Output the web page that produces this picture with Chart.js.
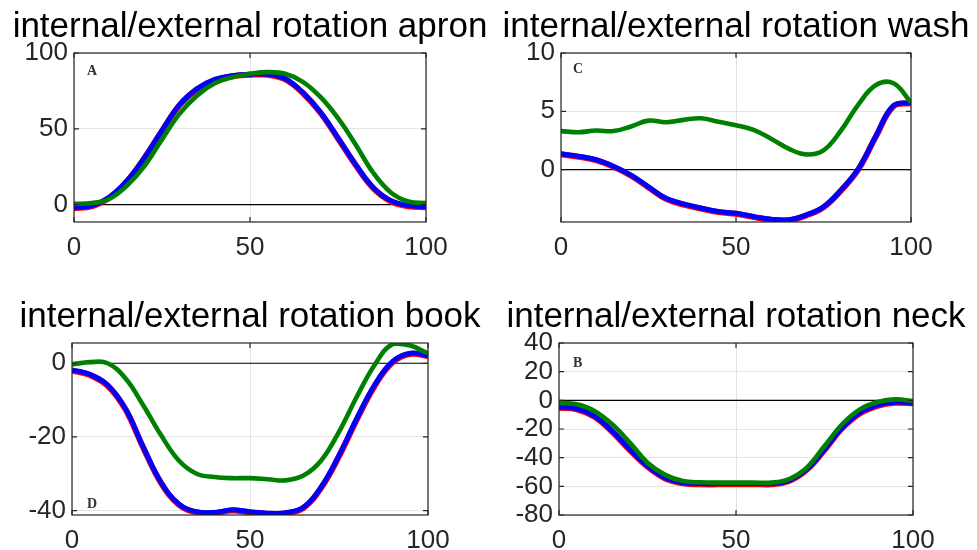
<!DOCTYPE html>
<html>
<head>
<meta charset="utf-8">
<script src="https://cdn.jsdelivr.net/npm/chart.js@4.4.1/dist/chart.umd.min.js"></script>
<style>
  body { margin: 0; background: #fff; width: 977px; height: 550px; position: relative; overflow: hidden; }
  canvas { position: absolute; }
</style>
</head>
<body>
<canvas id="apron" width="490" height="290" style="left:0;top:0"></canvas>
<canvas id="wash" width="487" height="290" style="left:490px;top:0"></canvas>
<canvas id="book" width="490" height="260" style="left:0;top:290px"></canvas>
<canvas id="neck" width="487" height="260" style="left:490px;top:290px"></canvas>
<script>
// % of movement cycle
const cycle = [0, 5, 10, 15, 20, 25, 30, 35, 40, 45, 50, 55, 60, 65, 70, 75, 80, 85, 90, 95, 100];
const xTicks = [0, 50, 100];

// apron
const apronRed   = [-2.4, -1.2, 4.4, 15.2, 30.6, 48.6, 65.6, 76.1, 82.2, 84.6, 85.6, 85.6, 82.6, 73.6, 60.6, 43.6, 26.1, 10.9, 2.2, -1.1, -1.7];
const apronBlue  = [-2, -0.8, 4.8, 15.6, 31, 49, 66, 76.5, 82.6, 85, 86, 86, 83, 74, 61, 44, 26.5, 11.3, 2.6, -0.7, -1.3];
const apronGreen = [0.5, 1, 3.7, 12.4, 25.4, 43, 60, 72, 80, 84, 86.3, 87.4, 86.3, 81, 71, 57, 39.6, 21, 8, 2, 1];
const apronTicks = [0, 50, 100];

// wash
const washRed   = [1.31, 1.09, 0.8, 0.23, -0.53, -1.53, -2.52, -3.0, -3.35, -3.65, -3.8, -4.08, -4.31, -4.35, -3.95, -3.25, -1.81, 0.03, 2.85, 5.43, 5.7];
const washBlue  = [1.36, 1.14, 0.85, 0.28, -0.48, -1.48, -2.47, -2.95, -3.3, -3.6, -3.75, -4.03, -4.26, -4.3, -3.9, -3.2, -1.76, 0.08, 2.9, 5.48, 5.75];
const washGreen = [3.3, 3.2, 3.35, 3.3, 3.7, 4.2, 4.06, 4.26, 4.4, 4.1, 3.8, 3.4, 2.65, 1.8, 1.3, 1.65, 3.35, 5.6, 7.25, 7.4, 5.75];
const washTicks = [0, 5, 10];

// book
const bookRed   = [-2, -3.2, -6.1, -12.5, -22.9, -32.5, -38.4, -40.5, -40.7, -40, -40.5, -40.9, -40.8, -39.3, -33.8, -25.3, -15.3, -6.2, 0.2, 2.5, 1.9];
const bookBlue  = [-1.8, -3, -5.9, -12.3, -22.7, -32.3, -38.2, -40.3, -40.5, -39.8, -40.3, -40.7, -40.6, -39.1, -33.6, -25, -15, -5.9, 0.45, 2.7, 2.1];
const bookGreen = [-0.3, 0.3, 0, -4.1, -11.4, -19.5, -26.4, -30, -30.9, -31.2, -31.2, -31.5, -31.8, -30.5, -26.4, -18.6, -9.1, -0.45, 5.2, 4.8, 2.7];
const bookTicks = [-40, -20, 0];

// neck
const neckRed   = [-5.2, -6.3, -11.5, -21.9, -34.7, -46.3, -54.5, -57.9, -58.6, -58.6, -58.5, -58.5, -58.5, -56.3, -48.5, -34.7, -19.5, -9.1, -3.8, -1.7, -2.1];
const neckBlue  = [-4.7, -5.8, -11, -21.4, -34.2, -45.8, -54, -57.4, -58.1, -58.1, -58, -58, -58, -55.8, -48, -34.2, -19, -8.6, -3.3, -1.2, -1.6];
const neckGreen = [-1.6, -2.8, -7.4, -16.7, -29.5, -43.5, -52, -56.3, -57.2, -57.4, -57.4, -57.4, -57.4, -54.9, -47, -31.9, -16.7, -6.3, -1.2, 0.7, -0.5];
const neckTicks = [-80, -60, -40, -20, 0, 20, 40];

const pts = ys => cycle.map((x, i) => ({ x: x, y: ys[i] }));
const axisColor = '#262626';
const sans = '"Liberation Sans", Arial, sans-serif';

// title, box, inward ticks and panel letter
const panelDecor = {
  id: 'panelDecor',
  afterDraw(chart, args, o) {
    const { ctx, chartArea: a, scales } = chart;
    ctx.save();
    ctx.fillStyle = '#000';
    ctx.font = '35px ' + sans;
    ctx.textAlign = 'center';
    ctx.textBaseline = 'alphabetic';
    ctx.fillText(o.title, (a.left + a.right) / 2, a.top - 16);

    ctx.strokeStyle = axisColor;
    ctx.lineWidth = 1.2;
    ctx.strokeRect(a.left, a.top, a.right - a.left, a.bottom - a.top);
    ctx.beginPath();
    xTicks.forEach(v => {
      const px = scales.x.getPixelForValue(v);
      ctx.moveTo(px, a.bottom); ctx.lineTo(px, a.bottom - 5);
      ctx.moveTo(px, a.top); ctx.lineTo(px, a.top + 5);
    });
    o.yTicks.forEach(v => {
      const py = scales.y.getPixelForValue(v);
      ctx.moveTo(a.left, py); ctx.lineTo(a.left + 5, py);
      ctx.moveTo(a.right, py); ctx.lineTo(a.right - 5, py);
    });
    ctx.stroke();

    ctx.fillStyle = '#333';
    ctx.font = 'bold 14px "Liberation Serif", "DejaVu Serif", serif';
    ctx.textAlign = 'left';
    const ly = o.letterFromBottom ? a.bottom - o.letterDy : a.top + o.letterDy;
    ctx.fillText(o.letter, a.left + o.letterDx, ly);
    ctx.restore();
  }
};

function panel(id, title, letter, red, blue, green, yTicks, yMin, yMax, layout) {
  const line = (data, color, w) => ({
    data: pts(data), borderColor: color, borderWidth: w,
    pointRadius: 0, tension: 0.4, fill: false
  });
  new Chart(document.getElementById(id), {
    type: 'line',
    data: {
      datasets: [
        line(green, 'rgb(0,128,0)', 4.6),
        line(blue, 'rgb(0,0,255)', 5),
        line(red, 'rgb(255,0,0)', 6),
        { data: [{ x: 0, y: 0 }, { x: 100, y: 0 }], borderColor: '#000', borderWidth: 1.2, pointRadius: 0 }
      ]
    },
    options: {
      responsive: false,
      animation: false,
      events: [],
      layout: { padding: { top: layout.top, right: layout.right, bottom: layout.bottom, left: 0 } },
      plugins: {
        legend: { display: false },
        tooltip: { enabled: false },
        panelDecor: { title: title, letter: letter, yTicks: yTicks,
          letterDx: layout.letterDx, letterDy: layout.letterDy, letterFromBottom: layout.letterFromBottom }
      },
      scales: {
        x: {
          type: 'linear', min: 0, max: 100,
          afterBuildTicks: ax => { ax.ticks = xTicks.map(v => ({ value: v })); },
          afterFit: ax => { ax.height = layout.xh; },
          grid: { color: '#e3e3e3', lineWidth: 1, drawTicks: false },
          border: { display: false },
          ticks: { color: axisColor, padding: 10, maxRotation: 0, autoSkip: false, font: { size: 26, family: sans } }
        },
        y: {
          type: 'linear', min: yMin, max: yMax,
          afterBuildTicks: ax => { ax.ticks = yTicks.map(v => ({ value: v })); },
          afterFit: ax => { ax.width = layout.yw; },
          grid: { color: '#e3e3e3', lineWidth: 1, drawTicks: false },
          border: { display: false },
          ticks: { color: axisColor, padding: 6, autoSkip: false, font: { size: 26, family: sans } }
        }
      }
    },
    plugins: [panelDecor]
  });
}

panel('apron', 'internal/external rotation apron', 'A', apronRed, apronBlue, apronGreen, apronTicks, -11.5, 100,
  { top: 53, right: 64, bottom: 28, xh: 40, yw: 74, letterDx: 13, letterDy: 22, letterFromBottom: false });
panel('wash', 'internal/external rotation wash', 'C', washRed, washBlue, washGreen, washTicks, -4.5, 10,
  { top: 53, right: 66, bottom: 28, xh: 40, yw: 71, letterDx: 12, letterDy: 20, letterFromBottom: false });
panel('book', 'internal/external rotation book', 'D', bookRed, bookBlue, bookGreen, bookTicks, -41.2, 5.5,
  { top: 53, right: 62, bottom: 0, xh: 35, yw: 72, letterDx: 15, letterDy: 7, letterFromBottom: true });
panel('neck', 'internal/external rotation neck', 'B', neckRed, neckBlue, neckGreen, neckTicks, -80, 40,
  { top: 53, right: 64, bottom: 0, xh: 35, yw: 69, letterDx: 14, letterDy: 24, letterFromBottom: false });
</script>
</body>
</html>
